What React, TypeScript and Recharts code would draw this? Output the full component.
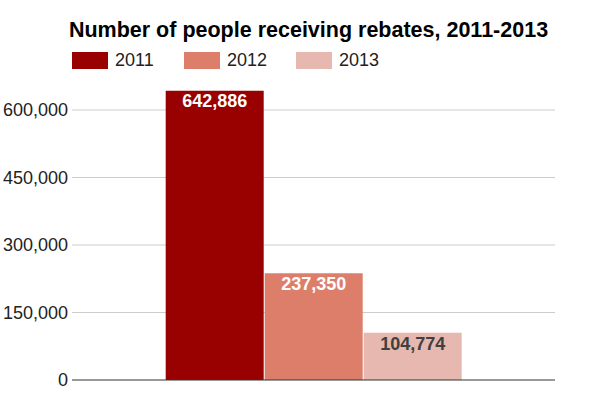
import React from "react";
import { BarChart, Bar, XAxis, YAxis, CartesianGrid, LabelList, ReferenceLine } from "recharts";

const categories = ["Rebates"];
const years = ["2011", "2012", "2013"];
const values2011 = [642886];
const values2012 = [237350];
const values2013 = [104774];
const yTicks = [0, 150000, 300000, 450000, 600000];
const colors = ["#990000", "#dd7e6b", "#e6b8af"];
const labelColors = ["#ffffff", "#ffffff", "#404040"];

const data = categories.map((c, i) => ({
  name: c,
  y2011: values2011[i],
  y2012: values2012[i],
  y2013: values2013[i],
}));

const keys = ["y2011", "y2012", "y2013"];
const FONT = "'Liberation Sans', Arial, sans-serif";
const fmt = (v: number) => v.toLocaleString("en-US");

export default function App() {
  return (
    <div style={{ position: "fixed", left: 0, top: 0, width: 609, height: 398, background: "#fff", fontFamily: FONT }}>
      <div style={{ position: "absolute", left: 0, width: 609, top: 18, lineHeight: "normal", textAlign: "center", fontSize: 21.5, fontWeight: "bold", color: "#000", paddingLeft: 8, boxSizing: "border-box" }}>
        Number of people receiving rebates, 2011-2013
      </div>
      {years.map((y, i) => (
        <div key={y} style={{ position: "absolute", left: 72 + i * 112, top: 52, height: 17, display: "flex", alignItems: "center" }}>
          <div style={{ width: 36, height: 17, background: colors[i] }} />
          <span style={{ marginLeft: 7, fontSize: 18, color: "#222" }}>{y}</span>
        </div>
      ))}
      <div style={{ position: "absolute", left: 0, top: 0 }}>
        <BarChart width={609} height={398} data={data} margin={{ top: 83, right: 54, bottom: 18, left: 0 }} barCategoryGap="19.4%" barGap={1}>
          <CartesianGrid vertical={false} stroke="#cccccc" horizontalValues={yTicks.filter((t) => t > 0)} />
          <XAxis dataKey="name" tick={false} height={0} axisLine={false} tickLine={false} />
          <YAxis width={72} domain={[0, 660000]} ticks={yTicks} tickFormatter={fmt} axisLine={false} tickLine={false}
            tickSize={0} tickMargin={4} tick={{ fontSize: 18, fill: "#222", fontFamily: FONT }} />
          {keys.map((k, i) => (
            <Bar key={k} dataKey={k} fill={colors[i]} isAnimationActive={false}>
              <LabelList dataKey={k} position="insideTop" offset={4} formatter={(v: any) => fmt(Number(v))}
                style={{ fontSize: 18, fontWeight: "bold", fill: labelColors[i], fontFamily: FONT }} />
            </Bar>
          ))}
          <ReferenceLine y={0} stroke="#333333" strokeWidth={1} />
        </BarChart>
      </div>
    </div>
  );
}
